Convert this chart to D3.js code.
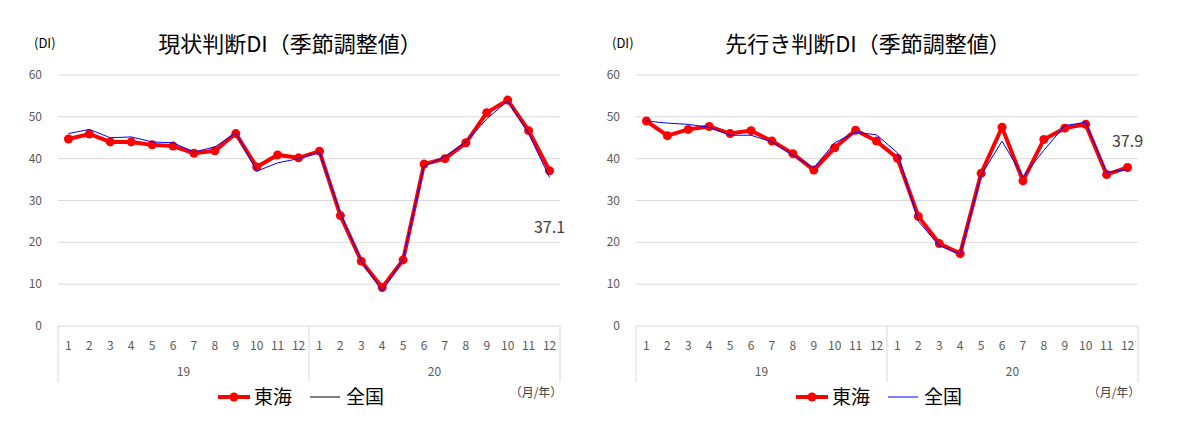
<!DOCTYPE html><html><head><meta charset="utf-8"><script src="https://cdn.jsdelivr.net/npm/d3@7"></script>
<style>body{margin:0;background:#fff;font-family:"Noto Sans CJK JP","Noto Sans",sans-serif}</style></head><body><svg id="c" width="1190" height="425"></svg>
<script>
const months=[1,2,3,4,5,6,7,8,9,10,11,12,1,2,3,4,5,6,7,8,9,10,11,12];
const years=["19","20"];
const yTicks=[0,10,20,30,40,50,60];
const curTokai=[44.7,45.9,44.0,44.0,43.3,43.0,41.3,41.9,46.0,38.0,40.9,40.2,41.8,26.4,15.5,9.2,15.8,38.7,40.0,43.8,51.0,54.0,46.7,37.1];
const curNation=[46,47,45,45.2,44,43.8,41.6,42.8,46.2,37,39,40,41.5,27,15.5,8.3,16,38.2,40.5,44,49.5,53.8,46,35.5];
const futTokai=[49,45.5,47,47.7,46,46.7,44.2,41.2,37.3,42.6,46.8,44.2,40.1,26.2,19.7,17.3,36.5,47.5,34.7,44.6,47.3,48.2,36.2,37.9];
const futNation=[49,48.5,48.2,47.5,45.6,45.6,44,40.8,37.8,43.8,46.3,45.7,41.4,25,19.2,17.2,36,44.2,35.7,42,47.9,48.7,36.7,37.4];
const svg=d3.select("#c");
function chart(x0,title,tok,nat,lastLabel,lblDx,lblDy){
  const g=svg.append("g");
  const x=d3.scaleBand().domain(d3.range(24)).range([x0,x0+502]);
  const y=d3.scaleLinear().domain([0,60]).range([326,75]);
  yTicks.forEach(t=>{
    if(t>0)g.append("line").attr("x1",x0).attr("x2",x0+502).attr("y1",y(t)).attr("y2",y(t)).attr("stroke","#d9d9d9");
    g.append("text").attr("x",x0-16).attr("y",y(t)+4).attr("text-anchor","end").attr("font-size",12).attr("fill","#595959").text(t);
  });
  g.append("line").attr("x1",x0).attr("x2",x0+502).attr("y1",326).attr("y2",326).attr("stroke","#d9d9d9");
  [0,12,24].forEach(i=>{const xx=i<24?x(i):x0+502;g.append("line").attr("x1",xx).attr("x2",xx).attr("y1",326).attr("y2",382).attr("stroke","#d9d9d9");});
  months.forEach((m,i)=>g.append("text").attr("x",x(i)+x.bandwidth()/2).attr("y",350).attr("text-anchor","middle").attr("font-size",12).attr("fill","#595959").text(m));
  years.forEach((yr,k)=>g.append("text").attr("x",x(k*12)+x.bandwidth()*6).attr("y",376).attr("text-anchor","middle").attr("font-size",12).attr("fill","#595959").text(yr));
  const cx=i=>x(i)+x.bandwidth()/2;
  const line=d3.line().x((d,i)=>cx(i)).y(d=>y(d));
  g.append("path").datum(tok).attr("d",line).attr("fill","none").attr("stroke","#ff0000").attr("stroke-width",4);
  g.selectAll(null).data(tok).join("circle").attr("cx",(d,i)=>cx(i)).attr("cy",d=>y(d)).attr("r",4.5).attr("fill","#ff0000");
  g.append("path").datum(nat).attr("d",line).attr("fill","none").attr("stroke","#0000ff").attr("stroke-width",1);
  g.append("text").attr("x",cx(23)+lblDx).attr("y",y(tok[23])+lblDy).attr("text-anchor","middle").attr("font-size",16).attr("fill","#404040").text(lastLabel);
  g.append("text").attr("x",x0-24).attr("y",48).attr("font-size",13).attr("fill","#000").text("(DI)");
  g.append("text").attr("x",x0+232).attr("y",52).attr("text-anchor","middle").attr("font-size",22).attr("fill","#000").text(title);
  const lx=x0+160;
  g.append("line").attr("x1",lx).attr("x2",lx+32).attr("y1",397).attr("y2",397).attr("stroke","#ff0000").attr("stroke-width",4);
  g.append("circle").attr("cx",lx+16).attr("cy",397).attr("r",4.5).attr("fill","#ff0000");
  g.append("text").attr("x",lx+36).attr("y",404).attr("font-size",19).text("東海");
  g.append("line").attr("x1",lx+92).attr("x2",lx+122).attr("y1",397).attr("y2",397).attr("stroke",title.startsWith("先")?"#0000ff":"#000").attr("stroke-width",1);
  g.append("text").attr("x",lx+128).attr("y",404).attr("font-size",19).text("全国");
  g.append("text").attr("x",x0+478).attr("y",397).attr("text-anchor","middle").attr("font-size",12).attr("fill","#404040").text("（月/年）");
}
chart(58,"現状判断DI（季節調整値）",curTokai,curNation,"37.1",0,62);
chart(636,"先行き判断DI（季節調整値）",futTokai,futNation,"37.9",0,-20);
</script></body></html>
